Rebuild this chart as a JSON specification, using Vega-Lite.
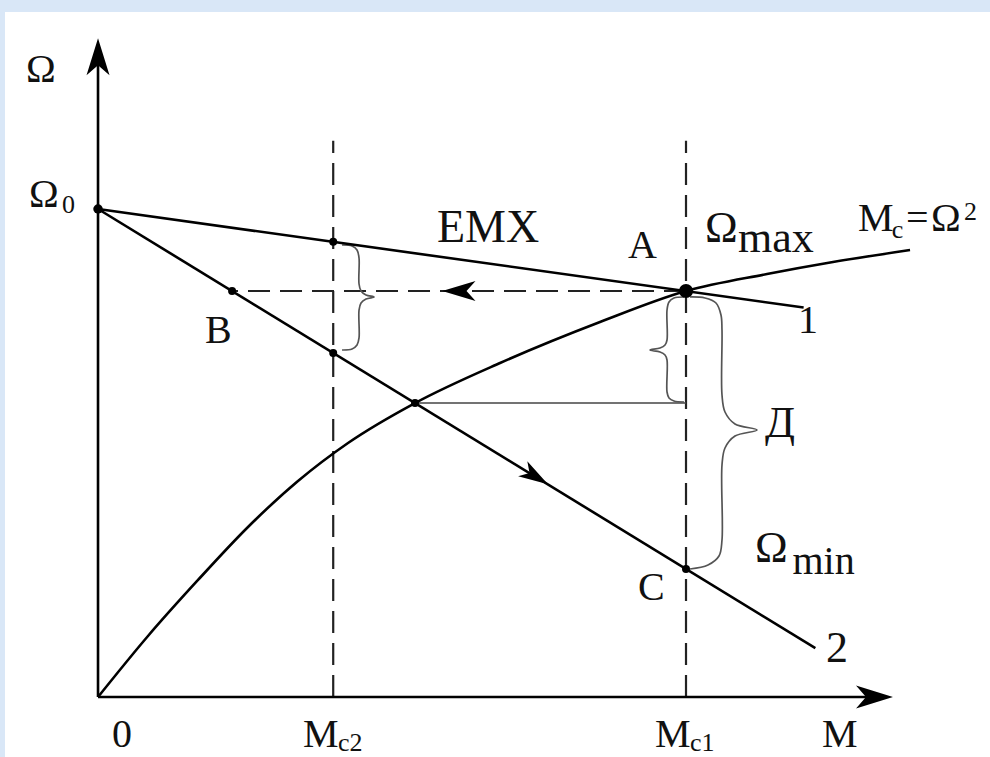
{
  "$schema": "https://vega.github.io/schema/vega-lite/v6.json",
  "width": 990,
  "height": 757,
  "autosize": {"type": "none"},
  "padding": 0,
  "background": "white",
  "config": {
    "view": {"fill": "white", "stroke": null},
    "text": {"font": "Liberation Serif", "color": "#111"}
  },
  "datasets": {
    "frame": [
      {"side": "left", "M": -1.667, "M2": -1.582, "Omega": -1.23, "Omega2": 14.283},
      {"side": "top", "M": -1.667, "M2": 15.17, "Omega": 14.037, "Omega2": 14.283}
    ],
    "segments": [
      {"id": "axisY", "role": "axis", "ord": 0, "M": 0, "Omega": 0},
      {"id": "axisY", "role": "axis", "ord": 1, "M": 0, "Omega": 13.1},
      {"id": "axisX", "role": "axis", "ord": 0, "M": 0, "Omega": 0},
      {"id": "axisX", "role": "axis", "ord": 1, "M": 13.2, "Omega": 0},
      {"id": "line1", "role": "characteristic", "ord": 0, "M": 0, "Omega": 10},
      {"id": "line1", "role": "characteristic", "ord": 1, "M": 12, "Omega": 7.98},
      {"id": "line2", "role": "characteristic", "ord": 0, "M": 0, "Omega": 10},
      {"id": "line2", "role": "characteristic", "ord": 1, "M": 12.2, "Omega": 1.0},
      {"id": "Mc2", "role": "level", "ord": 0, "M": 4, "Omega": 0},
      {"id": "Mc2", "role": "level", "ord": 1, "M": 4, "Omega": 11.4},
      {"id": "Mc1", "role": "level", "ord": 0, "M": 10, "Omega": 0},
      {"id": "Mc1", "role": "level", "ord": 1, "M": 10, "Omega": 11.4},
      {"id": "AB", "role": "level", "ord": 0, "M": 10, "Omega": 8.32},
      {"id": "AB", "role": "level", "ord": 1, "M": 2.28, "Omega": 8.32},
      {"id": "cross", "role": "guide", "ord": 0, "M": 5.391, "Omega": 6.023},
      {"id": "cross", "role": "guide", "ord": 1, "M": 10, "Omega": 6.023}
    ],
    "load": [
      {"M": 0, "Omega": 0},
      {"M": 0.85, "Omega": 1.25},
      {"M": 1.701, "Omega": 2.398},
      {"M": 2.551, "Omega": 3.484},
      {"M": 3.401, "Omega": 4.426},
      {"M": 4.252, "Omega": 5.205},
      {"M": 5.391, "Omega": 6.023},
      {"M": 6.837, "Omega": 6.844},
      {"M": 8.537, "Omega": 7.684},
      {"M": 10.0, "Omega": 8.32},
      {"M": 11.378, "Omega": 8.668},
      {"M": 12.5, "Omega": 8.914},
      {"M": 13.81, "Omega": 9.16}
    ],
    "dots": [
      {"id": "Omega0", "M": 0, "Omega": 10},
      {"id": "line1Mc2", "M": 4, "Omega": 9.327},
      {"id": "B", "M": 2.28, "Omega": 8.32},
      {"id": "line2Mc2", "M": 4, "Omega": 7.049},
      {"id": "cross", "M": 5.391, "Omega": 6.023},
      {"id": "C", "M": 10, "Omega": 2.623},
      {"id": "A", "M": 10, "Omega": 8.32}
    ],
    "arrows": [
      {"id": "yAxis", "M": 0, "Omega": 13.09},
      {"id": "xAxis", "M": 13.18, "Omega": 0},
      {"id": "return", "M": 6.16, "Omega": 8.32},
      {"id": "motion", "M": 7.42, "Omega": 4.53}
    ],
    "braces": [
      {"id": "b1", "ord": 1, "M": 4.150, "Omega": 9.262},
      {"id": "b1", "ord": 2, "M": 4.320, "Omega": 9.242},
      {"id": "b1", "ord": 3, "M": 4.405, "Omega": 9.160},
      {"id": "b1", "ord": 4, "M": 4.439, "Omega": 8.996},
      {"id": "b1", "ord": 5, "M": 4.439, "Omega": 8.463},
      {"id": "b1", "ord": 6, "M": 4.473, "Omega": 8.320},
      {"id": "b1", "ord": 7, "M": 4.558, "Omega": 8.238},
      {"id": "b1", "ord": 8, "M": 4.694, "Omega": 8.197},
      {"id": "b1", "ord": 9, "M": 4.558, "Omega": 8.156},
      {"id": "b1", "ord": 10, "M": 4.473, "Omega": 8.074},
      {"id": "b1", "ord": 11, "M": 4.439, "Omega": 7.930},
      {"id": "b1", "ord": 12, "M": 4.439, "Omega": 7.357},
      {"id": "b1", "ord": 13, "M": 4.405, "Omega": 7.213},
      {"id": "b1", "ord": 14, "M": 4.320, "Omega": 7.131},
      {"id": "b1", "ord": 15, "M": 4.150, "Omega": 7.111},
      {"id": "b2", "ord": 1, "M": 9.966, "Omega": 8.197},
      {"id": "b2", "ord": 2, "M": 9.796, "Omega": 8.176},
      {"id": "b2", "ord": 3, "M": 9.711, "Omega": 8.094},
      {"id": "b2", "ord": 4, "M": 9.677, "Omega": 7.930},
      {"id": "b2", "ord": 5, "M": 9.677, "Omega": 7.316},
      {"id": "b2", "ord": 6, "M": 9.643, "Omega": 7.213},
      {"id": "b2", "ord": 7, "M": 9.558, "Omega": 7.152},
      {"id": "b2", "ord": 8, "M": 9.388, "Omega": 7.111},
      {"id": "b2", "ord": 9, "M": 9.558, "Omega": 7.070},
      {"id": "b2", "ord": 10, "M": 9.643, "Omega": 7.008},
      {"id": "b2", "ord": 11, "M": 9.677, "Omega": 6.906},
      {"id": "b2", "ord": 12, "M": 9.677, "Omega": 6.250},
      {"id": "b2", "ord": 13, "M": 9.711, "Omega": 6.127},
      {"id": "b2", "ord": 14, "M": 9.796, "Omega": 6.066},
      {"id": "b2", "ord": 15, "M": 9.966, "Omega": 6.045},
      {"id": "b3", "ord": 1, "M": 10.068, "Omega": 8.197},
      {"id": "b3", "ord": 2, "M": 10.323, "Omega": 8.176},
      {"id": "b3", "ord": 3, "M": 10.510, "Omega": 8.074},
      {"id": "b3", "ord": 4, "M": 10.595, "Omega": 7.828},
      {"id": "b3", "ord": 5, "M": 10.612, "Omega": 7.520},
      {"id": "b3", "ord": 6, "M": 10.612, "Omega": 6.189},
      {"id": "b3", "ord": 7, "M": 10.663, "Omega": 5.840},
      {"id": "b3", "ord": 8, "M": 10.833, "Omega": 5.594},
      {"id": "b3", "ord": 9, "M": 11.207, "Omega": 5.471},
      {"id": "b3", "ord": 10, "M": 10.833, "Omega": 5.348},
      {"id": "b3", "ord": 11, "M": 10.663, "Omega": 5.102},
      {"id": "b3", "ord": 12, "M": 10.612, "Omega": 4.754},
      {"id": "b3", "ord": 13, "M": 10.612, "Omega": 3.217},
      {"id": "b3", "ord": 14, "M": 10.561, "Omega": 2.889},
      {"id": "b3", "ord": 15, "M": 10.374, "Omega": 2.705},
      {"id": "b3", "ord": 16, "M": 10.068, "Omega": 2.623}
    ],
    "labels": [
      {"t": "Ω", "cls": "mid", "M": -1.224, "Omega": 12.602},
      {"t": "Ω", "cls": "mid", "M": -1.173, "Omega": 10.041},
      {"t": "0", "cls": "sub", "M": -0.612, "Omega": 9.918},
      {"t": "EMX", "cls": "title", "M": 5.765, "Omega": 9.324},
      {"t": "A", "cls": "mid", "M": 9.014, "Omega": 8.996},
      {"t": "Ω", "cls": "big", "M": 10.323, "Omega": 9.324},
      {"t": "max", "cls": "big", "M": 10.884, "Omega": 9.119},
      {"t": "M", "cls": "mid", "M": 12.925, "Omega": 9.549},
      {"t": "c", "cls": "sub", "M": 13.5, "Omega": 9.406},
      {"t": "=", "cls": "mid", "M": 13.74, "Omega": 9.549},
      {"t": "Ω", "cls": "mid", "M": 14.167, "Omega": 9.549},
      {"t": "2", "cls": "sub", "M": 14.728, "Omega": 9.78},
      {"t": "1", "cls": "mid", "M": 11.905, "Omega": 7.459},
      {"t": "B", "cls": "mid", "M": 1.82, "Omega": 7.254},
      {"t": "Д", "cls": "big", "M": 11.344, "Omega": 5.328},
      {"t": "Ω", "cls": "big", "M": 11.173, "Omega": 2.766},
      {"t": "min", "cls": "mid", "M": 11.81, "Omega": 2.52},
      {"t": "C", "cls": "mid", "M": 9.184, "Omega": 1.988},
      {"t": "2", "cls": "big", "M": 12.381, "Omega": 0.717},
      {"t": "0", "cls": "mid", "M": 0.238, "Omega": -1.025},
      {"t": "M", "cls": "mid", "M": 3.486, "Omega": -1.025},
      {"t": "c2", "cls": "sub", "M": 4.082, "Omega": -1.107},
      {"t": "M", "cls": "mid", "M": 9.473, "Omega": -1.025},
      {"t": "c1", "cls": "sub", "M": 10.068, "Omega": -1.107},
      {"t": "M", "cls": "mid", "M": 12.313, "Omega": -1.025}
    ]
  },
  "encoding": {
    "x": {"field": "M", "type": "quantitative", "scale": {"domain": [-1.667, 15.17], "nice": false, "zero": false}, "axis": null},
    "y": {"field": "Omega", "type": "quantitative", "scale": {"domain": [-1.23, 14.283], "nice": false, "zero": false}, "axis": null}
  },
  "layer": [
    {
      "data": {"name": "frame"},
      "mark": {"type": "rect", "color": "#d9e7f7", "opacity": 1},
      "encoding": {"x2": {"field": "M2"}, "y2": {"field": "Omega2"}}
    },
    {
      "data": {"name": "segments"},
      "transform": [{"filter": {"field": "role", "equal": "level"}}],
      "mark": {"type": "line", "color": "#222", "strokeWidth": 2.2, "strokeDash": [22, 10]},
      "encoding": {"detail": {"field": "id"}, "order": {"field": "ord"}}
    },
    {
      "data": {"name": "segments"},
      "transform": [{"filter": {"field": "role", "equal": "guide"}}],
      "mark": {"type": "line", "color": "#444", "strokeWidth": 1.6},
      "encoding": {"detail": {"field": "id"}, "order": {"field": "ord"}}
    },
    {
      "data": {"name": "braces"},
      "mark": {"type": "line", "color": "#555", "strokeWidth": 1.7, "interpolate": "catmull-rom"},
      "encoding": {"detail": {"field": "id"}, "order": {"field": "ord"}}
    },
    {
      "data": {"name": "segments"},
      "transform": [{"filter": {"field": "role", "oneOf": ["axis", "characteristic"]}}],
      "mark": {"type": "line", "color": "#000", "strokeWidth": 2.6},
      "encoding": {"detail": {"field": "id"}, "order": {"field": "ord"}}
    },
    {
      "data": {"name": "load"},
      "mark": {"type": "line", "color": "#000", "strokeWidth": 2.6, "interpolate": "monotone"},
      "encoding": {}
    },
    {
      "data": {"name": "dots"},
      "transform": [{"filter": {"field": "id", "oneOf": ["line1Mc2", "B", "line2Mc2", "cross", "C"]}}],
      "mark": {"type": "circle", "color": "#000", "opacity": 1, "size": 64},
      "encoding": {}
    },
    {
      "data": {"name": "dots"},
      "transform": [{"filter": {"field": "id", "equal": "Omega0"}}],
      "mark": {"type": "circle", "color": "#000", "opacity": 1, "size": 90},
      "encoding": {}
    },
    {
      "data": {"name": "dots"},
      "transform": [{"filter": {"field": "id", "equal": "A"}}],
      "mark": {"type": "circle", "color": "#000", "opacity": 1, "size": 200},
      "encoding": {}
    },
    {
      "data": {"name": "arrows"},
      "transform": [{"filter": {"field": "id", "equal": "yAxis"}}],
      "mark": {"type": "point", "shape": "M1,0L-0.85,0.575L-0.35,0L-0.85,-0.575Z", "filled": true, "color": "#000", "opacity": 1, "strokeWidth": 0, "size": 1600, "angle": 270},
      "encoding": {}
    },
    {
      "data": {"name": "arrows"},
      "transform": [{"filter": {"field": "id", "equal": "xAxis"}}],
      "mark": {"type": "point", "shape": "M1,0L-0.85,0.575L-0.35,0L-0.85,-0.575Z", "filled": true, "color": "#000", "opacity": 1, "strokeWidth": 0, "size": 1600, "angle": 0},
      "encoding": {}
    },
    {
      "data": {"name": "arrows"},
      "transform": [{"filter": {"field": "id", "equal": "return"}}],
      "mark": {"type": "point", "shape": "M1,0L-0.85,0.55L-0.35,0L-0.85,-0.55Z", "filled": true, "color": "#000", "opacity": 1, "strokeWidth": 0, "size": 1296, "angle": 180},
      "encoding": {}
    },
    {
      "data": {"name": "arrows"},
      "transform": [{"filter": {"field": "id", "equal": "motion"}}],
      "mark": {"type": "point", "shape": "M1,0L-0.85,0.55L-0.35,0L-0.85,-0.55Z", "filled": true, "color": "#000", "opacity": 1, "strokeWidth": 0, "size": 1024, "angle": 31.5},
      "encoding": {}
    },
    {
      "data": {"name": "labels"},
      "transform": [{"filter": {"field": "cls", "equal": "title"}}],
      "mark": {"type": "text", "align": "left", "baseline": "alphabetic", "fontSize": 46},
      "encoding": {"text": {"field": "t"}}
    },
    {
      "data": {"name": "labels"},
      "transform": [{"filter": {"field": "cls", "equal": "big"}}],
      "mark": {"type": "text", "align": "left", "baseline": "alphabetic", "fontSize": 44},
      "encoding": {"text": {"field": "t"}}
    },
    {
      "data": {"name": "labels"},
      "transform": [{"filter": {"field": "cls", "equal": "mid"}}],
      "mark": {"type": "text", "align": "left", "baseline": "alphabetic", "fontSize": 40},
      "encoding": {"text": {"field": "t"}}
    },
    {
      "data": {"name": "labels"},
      "transform": [{"filter": {"field": "cls", "equal": "sub"}}],
      "mark": {"type": "text", "align": "left", "baseline": "alphabetic", "fontSize": 26},
      "encoding": {"text": {"field": "t"}}
    }
  ]
}
